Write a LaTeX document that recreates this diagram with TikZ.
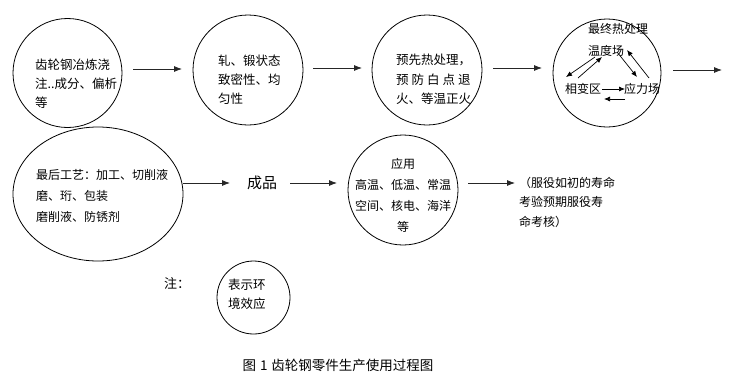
\documentclass[tikz,border=0pt]{standalone}
\usepackage{fontspec}
\newfontfamily\cjk{Noto Sans CJK SC}
\usetikzlibrary{arrows.meta,shapes.geometric}
\tikzset{
  ring/.style={circle,draw=black,line width=0.8pt,inner sep=0pt,minimum size=#1},
  oval/.style={ellipse,draw=black,line width=0.8pt},
  txt/.style={inner sep=0pt,align=left,font=\cjk\fontsize{12.5pt}{19pt}\selectfont,anchor=west},
  ctxt/.style={inner sep=0pt,align=center,font=\cjk\fontsize{12pt}{21pt}\selectfont},
  arr/.style={-{Latex[length=8pt,width=6pt]},line width=0.8pt,draw=black!85},
  sarr/.style={-{Latex[length=6pt,width=5pt]},line width=0.7pt,draw=black}
}
\begin{document}
\begin{tikzpicture}[x=1pt,y=-1pt]
\useasboundingbox (0,0) rectangle (731,378);
% row 1 circles
\node[ring=109pt] (c1) at (67.5,73) {};
\node[ring=110pt] (c2) at (248,70) {};
\node[ring=110pt] (c3) at (427,70) {};
\node[ring=108pt] (c4) at (607,73) {};
% texts row 1
\node[txt] (t1) at (35,83.5) {齿轮钢冶炼浇\\注..成分、偏析\\等};
\node[txt] (t2) at (218,80) {轧、锻状态\\致密性、均\\匀性};
\node[txt,font=\cjk\fontsize{12.5pt}{19.5pt}\selectfont] (t3) at (396,79.5) {预先热处理，\\预\hspace{3pt}防\hspace{3pt}白\hspace{3pt}点\hspace{3pt}退\\火、等温正火};
\node[txt,font=\cjk\fontsize{12pt}{19pt}\selectfont] (t4a) at (588,29) {最终热处理};
\node[txt,font=\cjk\fontsize{12pt}{19pt}\selectfont] (wd) at (588,51) {温度场};
\node[txt,font=\cjk\fontsize{12pt}{19pt}\selectfont] (xb) at (565,89) {相变区};
\node[txt,font=\cjk\fontsize{12pt}{19pt}\selectfont] (yl) at (624,89) {应力场};
% inner arrows
\coordinate (p1) at (595,57); \coordinate (p2) at (566,77);
\coordinate (p3) at (578,78); \coordinate (p4) at (602,57);
\coordinate (p5) at (617,52); \coordinate (p6) at (637,77);
\coordinate (p7) at (649,78); \coordinate (p8) at (627,50);
\coordinate (p9) at (602,89); \coordinate (p10) at (625,89);
\coordinate (p11) at (625,99); \coordinate (p12) at (604,99);
\draw[sarr] (p1) -- (p2);
\draw[sarr] (p3) -- (p4);
\draw[sarr] (p5) -- (p6);
\draw[sarr] (p7) -- (p8);
\draw[sarr] (p9) -- (p10);
\draw[sarr] (p11) -- (p12);
% row 1 arrows
\coordinate (a1s) at (133,69); \coordinate (a1e) at (182,69);
\coordinate (a2s) at (313,68); \coordinate (a2e) at (362,68);
\coordinate (a3s) at (493,68); \coordinate (a3e) at (542,68);
\coordinate (a4s) at (673,70); \coordinate (a4e) at (722,70);
\draw[arr] (a1s) -- (a1e);
\draw[arr] (a2s) -- (a2e);
\draw[arr] (a3s) -- (a3e);
\draw[arr] (a4s) -- (a4e);
% row 2
\node[oval,minimum width=170pt,minimum height=134pt] (e1) at (98,194) {};
\node[txt,font=\cjk\fontsize{12pt}{21pt}\selectfont] (te1) at (36,196) {最后工艺：加工、切削液\\磨、珩、包装\\磨削液、防锈剂};
\node[inner sep=0pt,font=\cjk\fontsize{15pt}{18pt}\selectfont] (cp) at (262,183) {成品};
\node[ring=110pt] (c5) at (403,190) {};
\node[ctxt] (t5) at (403,195) {应用\\高温、低温、常温\\空间、核电、海洋\\等};
\node[txt,font=\cjk\fontsize{12pt}{19.5pt}\selectfont] (t6) at (519,202) {（服役如初的寿命\\考验预期服役寿\\命考核）};
\coordinate (b1s) at (183,183); \coordinate (b1e) at (230,183);
\coordinate (b2s) at (290,183); \coordinate (b2e) at (337,183);
\coordinate (b3s) at (468,183); \coordinate (b3e) at (515,183);
\draw[arr] (b1s) -- (b1e);
\draw[arr] (b2s) -- (b2e);
\draw[arr] (b3s) -- (b3e);
% note
\node[inner sep=0pt,font=\cjk\fontsize{13pt}{16pt}\selectfont] (zhu) at (177,283) {注：};
\node[ring=73pt] (c6) at (253.5,297.5) {};
\node[txt] (t7) at (228,294) {表示环\\境效应};
% caption
\node[inner sep=0pt,font=\cjk\fontsize{13.5pt}{16pt}\selectfont] (cap) at (338,365) {图\hspace{4pt}1\hspace{4pt}齿轮钢零件生产使用过程图};
\end{tikzpicture}
\end{document}
